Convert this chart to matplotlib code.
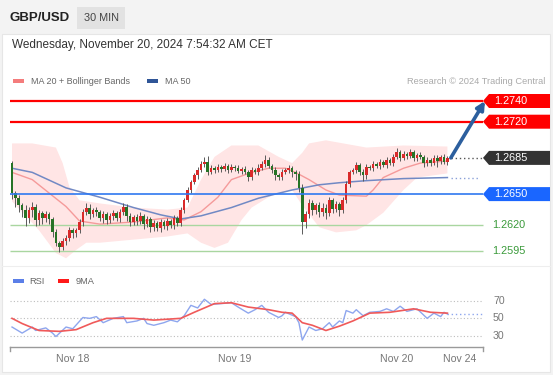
import numpy as np
import matplotlib
matplotlib.use('Agg')
import matplotlib.pyplot as plt
from matplotlib.patches import Rectangle, Polygon

plt.rcParams['font.family'] = ['Liberation Sans', 'DejaVu Sans']

W, H = 553, 375

# 30 min candles, GBP/USD (close prices, first open, wick lengths in pips)
first_open = 1.2680
closes = [
    1.2651, 1.2646, 1.2639, 1.2635, 1.2627, 1.2635, 1.2638, 1.2625, 1.2632, 1.2627,
    1.2631, 1.2626, 1.2613, 1.2603, 1.2599, 1.2605, 1.2608, 1.2615, 1.2612, 1.2615,
    1.2623, 1.2633, 1.2637, 1.2631, 1.2635, 1.2633, 1.2627, 1.2631, 1.2625, 1.2629,
    1.2632, 1.2627, 1.2633, 1.2638, 1.2629, 1.2623, 1.2628, 1.2624, 1.2629, 1.2621,
    1.2626, 1.2618, 1.2622, 1.2617, 1.2623, 1.2619, 1.2624, 1.2620, 1.2627, 1.2622,
    1.2635, 1.2644, 1.2654, 1.2662, 1.2668, 1.2673, 1.2679, 1.2681, 1.2671, 1.2675,
    1.2673, 1.2676, 1.2674, 1.2677, 1.2673, 1.2676, 1.2675, 1.2672, 1.2674, 1.2671,
    1.2667, 1.2673, 1.2671, 1.2675, 1.2679, 1.2683, 1.2677, 1.2673, 1.2668, 1.2667,
    1.2671, 1.2673, 1.2675, 1.2671, 1.2669, 1.2656, 1.2623, 1.2631, 1.2641, 1.2635,
    1.2639, 1.2633, 1.2637, 1.2632, 1.2644, 1.2636, 1.2640, 1.2635, 1.2644, 1.2660,
    1.2671, 1.2673, 1.2678, 1.2671, 1.2668, 1.2676, 1.2675, 1.2679, 1.2677, 1.2681,
    1.2678, 1.2683, 1.2680, 1.2686, 1.2691, 1.2685, 1.2689, 1.2687, 1.2691, 1.2685,
    1.2688, 1.2686, 1.2680, 1.2683, 1.2680, 1.2685, 1.2682, 1.2686, 1.2681, 1.2685,
]
upper_wick = [
    2, 2, 3, 2, 4, 3, 4, 2, 3, 2,
    3, 2, 2, 3, 2, 3, 2, 3, 2, 2,
    3, 3, 4, 3, 2, 3, 2, 3, 2, 3,
    3, 2, 3, 3, 2, 3, 2, 3, 4, 2,
    3, 2, 3, 2, 3, 2, 3, 2, 3, 2,
    3, 2, 3, 2, 2, 3, 3, 5, 6, 3,
    2, 3, 2, 3, 2, 3, 2, 3, 2, 3,
    2, 3, 2, 4, 3, 5, 3, 2, 3, 2,
    3, 2, 3, 2, 2, 3, 4, 3, 4, 3,
    2, 3, 4, 3, 3, 2, 3, 2, 3, 3,
    2, 2, 3, 2, 3, 3, 2, 3, 2, 3,
    2, 3, 2, 3, 4, 2, 3, 2, 3, 2,
    2, 3, 2, 3, 2, 3, 3, 2, 3, 2,
]
lower_wick = [
    6, 8, 6, 7, 8, 5, 7, 6, 5, 6,
    4, 5, 4, 3, 5, 3, 4, 3, 4, 3,
    3, 4, 3, 5, 3, 4, 3, 5, 4, 3,
    4, 3, 4, 3, 5, 4, 3, 4, 3, 5,
    3, 5, 4, 3, 4, 3, 4, 3, 4, 3,
    3, 3, 2, 3, 2, 3, 2, 3, 3, 2,
    3, 2, 3, 2, 3, 2, 3, 2, 3, 2,
    4, 3, 2, 3, 2, 3, 2, 3, 4, 3,
    3, 2, 3, 4, 5, 4, 12, 6, 4, 5,
    4, 5, 4, 6, 3, 4, 3, 6, 3, 3,
    3, 2, 3, 3, 5, 3, 2, 3, 2, 3,
    2, 3, 2, 3, 2, 3, 2, 3, 2, 3,
    3, 2, 4, 3, 3, 2, 6, 3, 2, 3,
]

# indicators (candle index, value)
ma20_idx = [0, 6, 11, 16, 20, 26, 36, 46, 51, 56, 61, 65, 71, 76, 81, 84, 88, 93, 97, 105, 107, 110, 116, 121, 129]
ma20_val = [1.2671, 1.2664, 1.2651, 1.2638, 1.2624, 1.2621, 1.2623, 1.2627, 1.2625, 1.2633,
            1.2647, 1.2664, 1.2671, 1.2675, 1.2675, 1.2671, 1.2664, 1.2654, 1.2649, 1.2648,
            1.2654, 1.2666, 1.2675, 1.2680, 1.2682]
ma50_idx = [0, 6, 16, 26, 36, 44, 50, 56, 65, 73, 83, 91, 97, 105, 116, 129]
ma50_val = [1.2675, 1.2671, 1.2656, 1.2647, 1.2637, 1.2630, 1.2626, 1.2629, 1.2637, 1.2646,
            1.2654, 1.2659, 1.2661, 1.2663, 1.2665, 1.2666]
bb_up_idx = [0, 6, 13, 15, 17, 20, 26, 36, 46, 52, 56, 60, 65, 73, 79, 83, 86, 88, 93, 105, 116, 129]
bb_up_val = [1.2699, 1.2699, 1.2695, 1.2680, 1.2657, 1.2644, 1.2641, 1.2637, 1.2635, 1.2637,
             1.2664, 1.2686, 1.2697, 1.2697, 1.2686, 1.2680, 1.2690, 1.2699, 1.2702, 1.2695,
             1.2697, 1.2696]
bb_lo_idx = [0, 8, 13, 16, 19, 22, 26, 36, 46, 52, 56, 60, 64, 68, 71, 76, 79, 83, 86, 91,
             96, 102, 105, 110, 116, 120, 129]
bb_lo_val = [1.2643, 1.2615, 1.2593, 1.2588, 1.2596, 1.2603, 1.2603, 1.2606, 1.2609, 1.2612,
             1.2603, 1.2598, 1.2603, 1.2625, 1.2637, 1.2647, 1.2651, 1.2654, 1.2639, 1.2618,
             1.2613, 1.2615, 1.2620, 1.2632, 1.2654, 1.2666, 1.2670]

resistances = [1.2740, 1.2720]
last_price = 1.2685
pivot = 1.2650
supports = [1.2620, 1.2595]
target = 1.2740

rsi_idx = [0, 3, 6, 7, 10, 12, 13, 16, 18, 21, 23, 25, 27, 30, 33, 34, 37, 39, 40, 42,
           45, 47, 49, 51, 53, 55, 57, 59, 62, 65, 67, 70, 72, 74, 76, 79, 80, 81, 84, 85,
           86, 88, 90, 92, 94, 95, 97, 98, 99, 101, 102, 104, 106, 109, 111, 113, 115, 117,
           120, 123, 125, 127, 128, 129]
rsi_val = [40, 33, 40, 36, 39, 33, 29, 40, 38, 51, 50, 52, 45, 50, 52, 45, 47, 50, 44, 42,
           45, 48, 46, 53, 65, 62, 72, 66, 67, 68, 63, 56, 60, 65, 57, 51, 53, 57, 52, 45,
           25, 40, 36, 38, 45, 40, 47, 45, 59, 56, 60, 53, 57, 58, 61, 58, 64, 58,
           61, 50, 56, 52, 57, 55]
rsi_ma_idx = [0, 3, 8, 14, 19, 24, 28, 36, 42, 50, 54, 60, 65, 70, 76, 80, 83, 86, 89, 93,
              97, 101, 106, 112, 119, 124, 129]
rsi_ma_val = [50, 44, 36, 35, 37, 45, 50, 50, 48, 50, 57, 67, 68, 63, 60, 57, 56, 45, 42, 36,
              41, 47, 56, 57, 61, 57, 56]

day_ticks = [18, 66, 114, 132.7]
day_labels = ['Nov 18', 'Nov 19', 'Nov 20', 'Nov 24']


def px_x(px):
    # pixel column -> candle index
    return (px - 10) / 3.375 - 0.6


def px_price(py):
    # pixel row -> price
    return 1.2740 - (py - 101) / 10345


def fx(px):
    return px / W


def fy(py):
    return 1 - py / H


fig = plt.figure(figsize=(W / 100, H / 100), dpi=100, facecolor='#f3f3f3')

# white card + header
fig.add_artist(Rectangle((fx(2), fy(372)), fx(548), (372 - 34) / H, transform=fig.transFigure,
                         facecolor='white', edgecolor='#e6e6e6', lw=0.8, zorder=0))
fig.add_artist(Rectangle((fx(77), fy(29)), fx(48), 22 / H, transform=fig.transFigure,
                         facecolor='#e2e2e2', edgecolor='none', zorder=1))
fig.text(fx(10), fy(18), 'GBP/USD', fontsize=9.5, fontweight='bold', color='#222', va='center')
fig.text(fx(101), fy(18), '30 MIN', fontsize=7.8, color='#444', va='center', ha='center')
fig.text(fx(12), fy(45), 'Wednesday, November 20, 2024 7:54:32 AM CET', fontsize=8.5,
         color='#333', va='center')

# legends
fig.add_artist(Rectangle((fx(13), fy(83)), fx(11), 4 / H, transform=fig.transFigure,
                         facecolor='#f47c7c', edgecolor='none'))
fig.text(fx(31), fy(81), 'MA 20 + Bollinger Bands', fontsize=6.5, color='#666', va='center')
fig.add_artist(Rectangle((fx(147), fy(83)), fx(11), 4 / H, transform=fig.transFigure,
                         facecolor='#2f5597', edgecolor='none'))
fig.text(fx(165), fy(81), 'MA 50', fontsize=6.5, color='#666', va='center')
fig.text(fx(545), fy(81), 'Research \u00a9 2024 Trading Central', fontsize=6.7, color='#aaa',
         va='center', ha='right')

fig.add_artist(Rectangle((fx(13), fy(283)), fx(11), 4 / H, transform=fig.transFigure,
                         facecolor='#5b7fe8', edgecolor='none'))
fig.text(fx(29), fy(281), 'RSI', fontsize=6.7, color='#666', va='center')
fig.add_artist(Rectangle((fx(58), fy(283)), fx(11), 4 / H, transform=fig.transFigure,
                         facecolor='#ff1a1a', edgecolor='none'))
fig.text(fx(76), fy(281), '9MA', fontsize=6.7, color='#666', va='center')

fig.add_artist(plt.Line2D([fx(2), fx(550)], [fy(266), fy(266)], color='#eeeeee', lw=0.8))

# price panel
ax = fig.add_axes([fx(10), fy(262), (W - 10) / W, 170 / H])
ax.set_xlim(-0.6, px_x(553))
ax.set_ylim(px_price(262), px_price(92))
ax.axis('off')

ax.fill(np.concatenate([bb_up_idx, bb_lo_idx[::-1]]),
        np.concatenate([bb_up_val, bb_lo_val[::-1]]),
        color='#ffe5e5', lw=0, zorder=1)
ax.plot(ma20_idx, ma20_val, color='#f59a9a', lw=1.0, zorder=2)
ax.plot(ma50_idx, ma50_val, color='#7189c4', lw=1.1, zorder=2)
ax.plot([ma50_idx[-1] + 1, px_x(478)], [ma50_val[-1]] * 2, color='#8aa0d8', lw=1,
        ls=(0, (1, 2)), zorder=2)

idx = np.arange(len(closes))
c = np.array(closes)
o = np.array([first_open] + closes[:-1])
hi = np.maximum(o, c) + np.array(upper_wick) * 0.0001
lo = np.minimum(o, c) - np.array(lower_wick) * 0.0001
cols = np.where(c >= o, '#d92a2a', '#267326')
ax.vlines(idx, lo, hi, color='#5a5a5a', lw=0.7, zorder=3)
ax.bar(idx, np.maximum(np.abs(c - o), 0.00007), bottom=np.minimum(o, c), width=0.78,
       color=cols, lw=0, zorder=4)


def price_tag(level, color):
    hh = 7 / 10345
    x0, x1, x2 = px_x(483), px_x(489), px_x(550)
    ax.add_patch(Polygon([(x0, level), (x1, level + hh), (x2, level + hh), (x2, level - hh),
                          (x1, level - hh)], closed=True, facecolor=color, edgecolor='none',
                         zorder=6))
    ax.text(px_x(494), level, f'{level:.4f}', color='white', fontsize=7.8, va='center',
            ha='left', zorder=7)


x_end = px_x(483)
for r in resistances:
    ax.hlines(r, -0.6, x_end, color='#ff0000', lw=1.6, zorder=5)
    price_tag(r, '#ff0000')
ax.hlines(pivot, -0.6, x_end, color='#2f78f0', lw=1.2, zorder=5)
price_tag(pivot, '#1a66ff')
for s in supports:
    ax.hlines(s, -0.6, x_end, color='#a9d6a0', lw=1.0, zorder=2)
    ax.text(px_x(492), s, f'{s:.4f}', color='#3a9a3a', fontsize=7.8, va='center', ha='left')
ax.hlines(last_price, idx[-1] + 1, x_end, color='#555555', lw=1, linestyles=(0, (1, 2)), zorder=5)
price_tag(last_price, '#333333')

ax.annotate('', xy=(px_x(485), target), xytext=(idx[-1] + 1, last_price),
            arrowprops=dict(arrowstyle='-|>', color='#2c5f9e', lw=2.6, mutation_scale=12,
                            shrinkA=0, shrinkB=0), zorder=8)

# RSI panel
r_top, r_bot = 290, 347
r_scale = 0.8675


def px_rsi(py):
    return 50 - (py - 318.35) / r_scale


rax = fig.add_axes([fx(10), fy(r_bot), (W - 10) / W, (r_bot - r_top) / H])
rax.set_xlim(-0.6, px_x(553))
rax.set_ylim(px_rsi(r_bot), px_rsi(r_top))
rax.patch.set_alpha(0)
for sp in rax.spines.values():
    sp.set_visible(False)
rax.set_yticks([])
rax.set_xticks(day_ticks)
rax.set_xticklabels(day_labels)
rax.tick_params(axis='x', length=0, pad=5, labelsize=7.6, labelcolor='#777')

rax.hlines([30, 50, 70], -0.6, x_end, colors='#bdbdbd', linestyles=(0, (1, 2)), lw=0.8)
for v in [70, 50, 30]:
    rax.text(px_x(493), v, str(v), fontsize=7.6, color='#777', va='center', ha='left')
y0 = px_rsi(r_bot)
rax.plot([-0.6, x_end], [y0, y0], color='#9a9a9a', lw=1, clip_on=False)
for xe in [-0.6, x_end]:
    rax.plot([xe, xe], [y0, y0 - 4 / r_scale], color='#9a9a9a', lw=1, clip_on=False)

rax.plot(rsi_idx, rsi_val, color='#8ea6ee', lw=1.0)
rax.plot(rsi_ma_idx, rsi_ma_val, color='#f05a5a', lw=1.2)
rax.plot([rsi_idx[-1], x_end], [rsi_val[-1]] * 2, color='#8ea6ee', lw=1, ls=(0, (1, 2)))

fig.savefig('out.png', dpi=100, facecolor=fig.get_facecolor())
